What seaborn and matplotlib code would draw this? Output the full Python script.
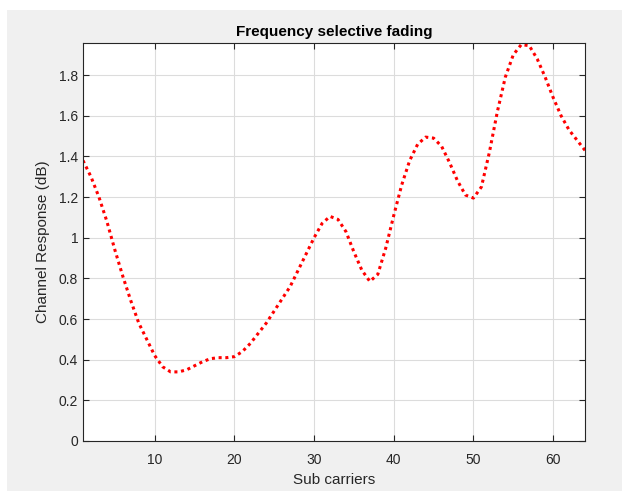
import matplotlib
matplotlib.use("Agg")
import matplotlib.pyplot as plt
import seaborn as sns
import pandas as pd
from matplotlib.patches import Rectangle

subcarriers = list(range(1, 65))
response = [1.38, 1.30, 1.20, 1.08, 0.94, 0.81, 0.69, 0.58, 0.50, 0.42,
            0.365, 0.34, 0.34, 0.35, 0.37, 0.39, 0.405, 0.41, 0.41, 0.415,
            0.44, 0.48, 0.53, 0.58, 0.64, 0.70, 0.76, 0.84, 0.92, 1.00,
            1.07, 1.105, 1.09, 1.03, 0.93, 0.84, 0.785, 0.82, 0.95, 1.11,
            1.26, 1.38, 1.46, 1.495, 1.49, 1.45, 1.37, 1.28, 1.21, 1.195,
            1.25, 1.42, 1.62, 1.79, 1.90, 1.95, 1.945, 1.88, 1.79, 1.69,
            1.60, 1.53, 1.48, 1.43]
xticks = [10, 20, 30, 40, 50, 60]
yticks = [0, 0.2, 0.4, 0.6, 0.8, 1.0, 1.2, 1.4, 1.6, 1.8]
ytick_labels = ["0", "0.2", "0.4", "0.6", "0.8", "1", "1.2", "1.4", "1.6", "1.8"]

sns.set_style("white")
plt.rcParams['font.family'] = ['Liberation Sans', 'DejaVu Sans']

fig = plt.figure(figsize=(6.22, 4.91), dpi=100, facecolor='#f0f0f0')
# screenshot margins
fig.patches.append(Rectangle((0, 1 - 10/491), 1, 10/491, transform=fig.transFigure,
                             facecolor='white', edgecolor='none', zorder=-1))
fig.patches.append(Rectangle((0, 0), 7/622, 1, transform=fig.transFigure,
                             facecolor='white', edgecolor='none', zorder=-1))

ax = fig.add_axes([83/622, 1 - 441/491, (585 - 83)/622, (441 - 43)/491])
ax.set_facecolor('white')

df = pd.DataFrame({"Sub carriers": subcarriers, "Response": response})
sns.lineplot(data=df, x="Sub carriers", y="Response", ax=ax, color='red',
             linestyle=(0, (1, 1.2)), linewidth=2.2)

ax.set_xlim(1, 64)
ax.set_ylim(0, 1.958)
ax.set_xticks(xticks)
ax.set_yticks(yticks)
ax.set_yticklabels(ytick_labels)
ax.grid(True, color='#dcdcdc', linewidth=0.8)
ax.set_axisbelow(True)
for s in ax.spines.values():
    s.set_color('#262626')
    s.set_linewidth(0.8)
ax.tick_params(direction='in', length=4, width=0.8, color='#262626',
               labelcolor='#262626', labelsize=10, top=True, right=True,
               bottom=True, left=True)
ax.tick_params(axis='x', pad=9)
ax.set_xlabel("Sub carriers", fontsize=11, color='#262626', labelpad=4)
ax.set_ylabel("Channel Response (dB)", fontsize=11, color='#262626', labelpad=6)
ax.set_title("Frequency selective fading", fontsize=11, fontweight='bold',
             color='black', pad=5)

fig.savefig("out.png", dpi=100, facecolor=fig.get_facecolor())
